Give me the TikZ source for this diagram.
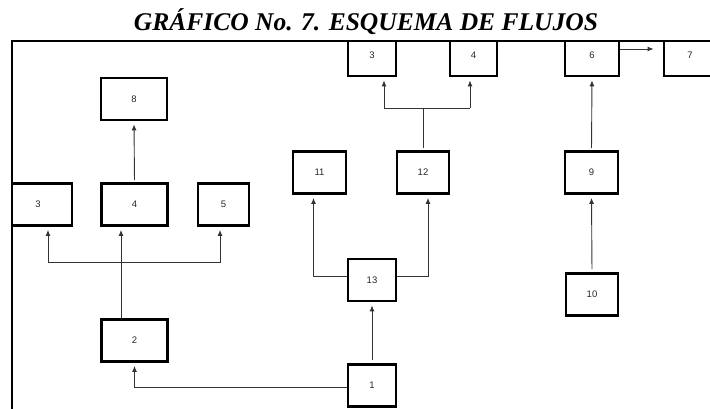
\documentclass[tikz,border=0pt]{standalone}
\usepackage{fontspec}
\setmainfont{Liberation Serif}
\newfontfamily\numfont{Liberation Sans}
\usetikzlibrary{positioning,calc,arrows.meta}

\begin{document}
\begin{tikzpicture}[x=1pt, y=-1pt,
        caja/.style={draw, line width=2.8pt, minimum height=42pt, inner sep=0pt,
            font=\numfont\fontsize{9.5}{10}\selectfont, text=black!85},
        flecha/.style={draw, line width=0.9pt, black!80, shorten >=3pt,
            -{Latex[length=6pt,width=5pt]}},
        linea/.style={draw, line width=0.9pt, black!80}
    ]
    \useasboundingbox (0,0) rectangle (710,409);

    % --- TITULO ---
    \node[font=\bfseries\itshape\fontsize{25.5}{27}\selectfont, anchor=base]
        (titulo) at (366,31) {GRÁFICO No. 7. ESQUEMA DE FLUJOS};

    \begin{scope}
        \clip (12,41) rectangle (710,409);

        % --- CAJAS ---
        \node[caja, minimum width=66pt] (c8)  at (134,99) {8};
        \node[caja, minimum width=68pt] (c3a) at (38,204.5) {3};
        \node[caja, minimum width=66pt] (c4a) at (134.5,204.5) {4};
        \node[caja, minimum width=51pt] (c5)  at (223.5,204.5) {5};
        \node[caja, minimum width=66pt] (c2)  at (134.5,340.5) {2};
        \node[caja, minimum width=53pt] (c11) at (319.5,172.5) {11};
        \node[caja, minimum width=52pt] (c12) at (423,172.5) {12};
        \node[caja, minimum width=48pt] (c13) at (372,280) {13};
        \node[caja, minimum width=48pt] (c1)  at (372,385.5) {1};
        \node[caja, minimum width=48pt] (c3b) at (372,55) {3};
        \node[caja, minimum width=47pt] (c4b) at (473.5,55) {4};
        \node[caja, minimum width=54pt] (c6)  at (592,55) {6};
        \node[caja, minimum width=52pt] (c7)  at (690,55) {7};
        \node[caja, minimum width=53pt] (c9)  at (591.5,172.5) {9};
        \node[caja, minimum width=52pt] (c10) at (592,294.5) {10};

        % --- RAMAS ---
        \coordinate (r2)  at (121,262);
        \coordinate (r2i) at (48,262);
        \coordinate (r2d) at (220,262);
        \coordinate (r12i) at (384,108);
        \coordinate (r12d) at (470,108);

        % --- FLECHAS ---
        \draw[flecha, shorten <=2pt] (c4a.north) -- (c8.south);
        \draw[linea] (r2 |- c2.north) -- (r2);
        \draw[flecha] (r2) -- (r2 |- c4a.south);
        \draw[flecha] (r2) -- (r2i) -- (r2i |- c3a.south);
        \draw[flecha] (r2) -- (r2d) -- (r2d |- c5.south);
        \draw[flecha] ([yshift=-1.5pt]c1.west) -| (c2.south);
        \draw[flecha, shorten <=3pt] (c1.north) -- (c13.south);
        \draw[flecha] ([yshift=4pt]c13.west) -| ([xshift=-6pt]c11.south);
        \draw[flecha] ([yshift=4pt]c13.east) -| ([xshift=5pt]c12.south);
        \draw[linea, shorten <=2pt] (c12.north) -- (c12.north |- r12i);
        \draw[linea] (r12i) -- (r12d);
        \draw[flecha] (r12i) -- (r12i |- c3b.south);
        \draw[flecha] (r12d) -- (r12d |- c4b.south);
        \draw[flecha, shorten <=2pt] (c9.north) -- (c6.south);
        \draw[flecha, shorten <=3pt] (c10.north) -- (c9.south);
        \draw[flecha, shorten >=9pt] ([yshift=6pt]c6.east) -- ([yshift=6pt]c7.west);
    \end{scope}

    % --- MARCO ---
    \draw[line width=2.4pt] (12,409) -- (12,41) -- (710,41);
\end{tikzpicture}
\end{document}
